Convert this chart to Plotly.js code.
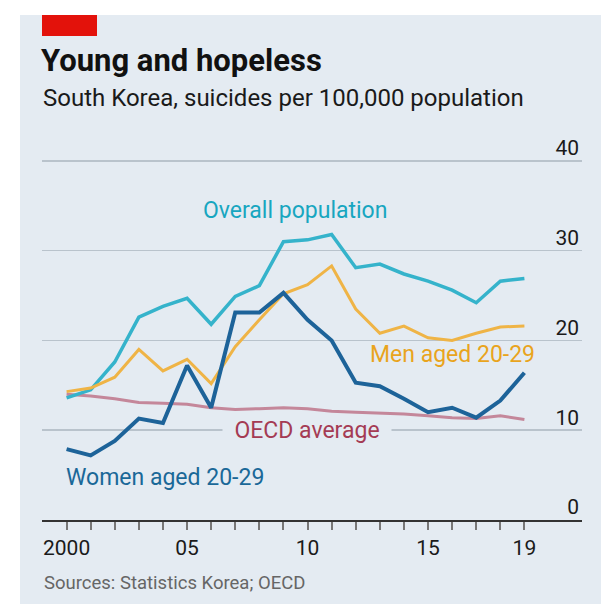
<!DOCTYPE html>
<html>
<head>
<meta charset="utf-8">
<script src="https://cdn.plot.ly/plotly-3.0.1.min.js"></script>
<style>html,body{margin:0;padding:0;background:#fff;}#chart{width:612px;height:604px;}</style>
</head>
<body>
<div id="chart"></div>
<script>
const years = [2000,2001,2002,2003,2004,2005,2006,2007,2008,2009,2010,2011,2012,2013,2014,2015,2016,2017,2018,2019];
const overall = [13.6,14.5,17.6,22.6,23.8,24.7,21.8,24.9,26.1,31.0,31.2,31.8,28.1,28.5,27.4,26.6,25.6,24.2,26.6,26.9];
const men2029 = [14.3,14.7,15.9,19.0,16.6,17.9,15.2,19.3,22.3,25.2,26.2,28.3,23.5,20.8,21.6,20.3,20.0,20.8,21.5,21.6];
const women2029 = [7.9,7.2,8.8,11.3,10.8,17.2,12.5,23.1,23.1,25.3,22.3,20.0,15.3,14.9,13.5,12.0,12.5,11.4,13.3,16.4];
const oecd = [14.0,13.8,13.5,13.1,13.0,12.9,12.5,12.3,12.4,12.5,12.4,12.1,12.0,11.9,11.8,11.6,11.4,11.3,11.6,11.2];
const xTickLabels = {2000:'2000',2005:'05',2010:'10',2015:'15',2019:'19'};
const yTicks = [0,10,20,30,40];

const panel = '#e4ebf2';
const font = 'Roboto, "Open Sans", sans-serif';
const T = 142; // plot top px
const B = 520; // plot bottom px
const H = B - T;
const py = p => (B - p) / H; // pixel row -> paper y

const traces = [
  {x: years, y: oecd, mode:'lines', line:{color:'#c4879a', width:3}, hoverinfo:'skip'},
  {x: years, y: overall, mode:'lines', line:{color:'#35b3cb', width:3.5}, hoverinfo:'skip'},
  {x: years, y: men2029, mode:'lines', line:{color:'#efb446', width:3}, hoverinfo:'skip'},
  {x: years, y: women2029, mode:'lines', line:{color:'#1d6399', width:4}, hoverinfo:'skip'}
];

const layout = {
  width:612, height:604,
  margin:{l:42, r:30, t:T, b:604-B},
  paper_bgcolor:'#ffffff',
  plot_bgcolor:'rgba(0,0,0,0)',
  showlegend:false,
  font:{family:font, color:'#1a1a1a'},
  title:{text:'<b>Young and hopeless</b>', x:41/612, xanchor:'left', xref:'container',
         y:1-60/604, yanchor:'middle', yref:'container',
         font:{family:font, size:31, color:'#111'}},
  xaxis:{
    range:[1998.98, 2021.39],
    tickvals: years,
    ticktext: years.map(y => xTickLabels[y] || ''),
    ticks:'outside', ticklen:8, tickwidth:2, tickcolor:'#777',
    showgrid:false, zeroline:false,
    showline:true, linecolor:'#333', linewidth:1.5,
    tickfont:{family:font, size:21, color:'#1a1a1a'}
  },
  yaxis:{
    range:[0,42.1], side:'right',
    tickvals: yTicks, ticktext: yTicks.map(String),
    ticklabelposition:'inside', ticklabelshift:-13, ticklabeloverflow:'allow',
    ticks:'', showgrid:true, gridcolor:'#b9c3cc', gridwidth:1.5,
    zeroline:false, showline:false,
    tickfont:{family:font, size:21, color:'#1a1a1a'}
  },
  shapes:[
    {type:'rect', xref:'paper', yref:'paper', x0:(20-42)/540, x1:(601-42)/540, y0:py(606), y1:py(15),
     fillcolor:panel, line:{width:0}, layer:'below'},
    {type:'rect', xref:'paper', yref:'paper', x0:0, x1:(97-42)/540, y0:py(36), y1:py(15),
     fillcolor:'#e3120b', line:{width:0}, layer:'below'}
  ],
  annotations:[
    {text:'South Korea, suicides per 100,000 population', xref:'paper', yref:'paper',
     x:-1/540, xanchor:'left', y:py(98), yanchor:'middle', showarrow:false,
     font:{family:font, size:24, color:'#1a1a1a'}},
    {text:'Sources: Statistics Korea; OECD', xref:'paper', yref:'paper',
     x:0, xanchor:'left', y:py(583), yanchor:'middle', showarrow:false,
     font:{family:font, size:18.5, color:'#666'}},
    {text:'Overall population', x:2009.48, y:34.5, xref:'x', yref:'y', showarrow:false,
     font:{family:font, size:23, color:'#17a6c0'}},
    {text:'Men aged 20-29', x:2016.02, y:18.4, xref:'x', yref:'y', showarrow:false,
     font:{family:font, size:23, color:'#e9a41d'}},
    {text:'\u00a0\u00a0OECD average\u00a0\u00a0', x:2009.96, y:9.97, xref:'x', yref:'y', showarrow:false,
     bgcolor:panel, borderpad:0,
     font:{family:font, size:23, color:'#a43b54'}},
    {text:'Women aged 20-29', x:2004.07, y:4.7, xref:'x', yref:'y', showarrow:false,
     font:{family:font, size:23, color:'#1a6898'}}
  ]
};

Plotly.newPlot('chart', traces, layout, {displayModeBar:false, staticPlot:true});
</script>
</body>
</html>
